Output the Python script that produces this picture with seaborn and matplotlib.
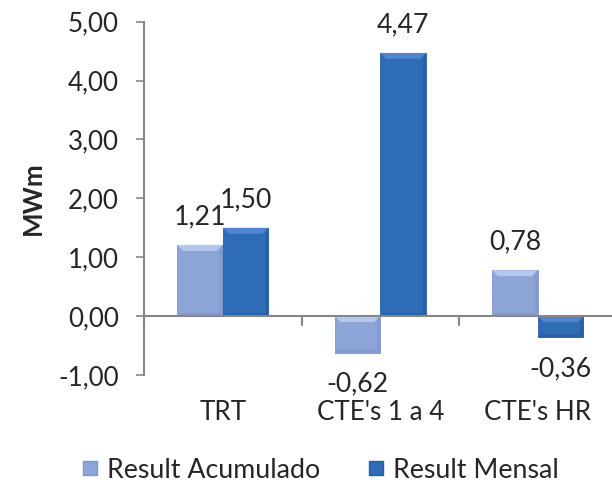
import matplotlib
matplotlib.use("Agg")
import matplotlib.pyplot as plt
import seaborn as sns
import pandas as pd
import numpy as np
from matplotlib.lines import Line2D
from matplotlib.patches import Polygon
from matplotlib.textpath import TextPath
from matplotlib.font_manager import FontProperties

categories = ["TRT", "CTE's 1 a 4", "CTE's HR"]
series_names = ["Result Acumulado", "Result Mensal"]
acumulado = [1.21, -0.62, 0.78]
mensal = [1.50, 4.47, -0.36]
yticks = [-1, 0, 1, 2, 3, 4, 5]

colors = {"Result Acumulado": "#8DA4D6", "Result Mensal": "#2F6CB6"}
edges = {"Result Acumulado": "#7F96C6", "Result Mensal": "#275EA2"}
light = {"Result Acumulado": "#B4C7EC", "Result Mensal": "#4F86D0"}
dark = {"Result Acumulado": "#8299CA", "Result Mensal": "#2860A6"}

FAM = "Lato"


def fit(text, px, weight="normal"):
    fp = FontProperties(family=FAM, weight=weight, size=100)
    w = TextPath((0, 0), text, prop=fp).get_extents().width
    return 100 * px * 0.72 / w


fs_tick = fit("5,00", 49)
fs_cat = fs_tick
fs_lab = fit("-0,62", 59)
fs_leg = fit("Result Acumulado", 209)
fs_ylab = fit("MWm", 70, "bold")

df = pd.DataFrame({
    "cat": categories * 2,
    "serie": [series_names[0]] * 3 + [series_names[1]] * 3,
    "val": acumulado + mensal,
})

sns.set_style("white")
plt.rcParams['font.family'] = [FAM, 'DejaVu Sans']

fig = plt.figure(figsize=(6.12, 4.84), dpi=100)
ax = fig.add_axes([144 / 612, (484 - 375) / 484, 472.5 / 612, (375 - 21.7) / 484])

sns.barplot(data=df, x="cat", y="val", hue="serie", order=categories,
            hue_order=series_names, palette=colors, width=0.58, gap=0,
            saturation=1, legend=False, ax=ax, errorbar=None)

ax.set_ylim(-1, 5)
ax.set_xlim(-0.5, len(categories) - 0.5)

# pixel -> data scale
px_x = 1.0 / 157.5
px_y = 6.0 / 353.3

for cont, name in zip(ax.containers, series_names):
    for bar in cont:
        bar.set_edgecolor(edges[name])
        bar.set_linewidth(0.6)
        bar.set_zorder(2)
        x0 = bar.get_x()
        w = bar.get_width()
        y0 = min(bar.get_y(), bar.get_y() + bar.get_height())
        y1 = max(bar.get_y(), bar.get_y() + bar.get_height())
        bx = 6 * px_x
        by = 6 * px_y
        sx = 3 * px_x
        sy = 3 * px_y
        # top bevel (lighter)
        ax.add_patch(Polygon([[x0, y1], [x0 + w, y1], [x0 + w - bx, y1 - by], [x0 + bx, y1 - by]],
                             closed=True, facecolor=light[name], edgecolor="none", zorder=3))
        # right & bottom bevels (slightly darker)
        ax.add_patch(Polygon([[x0 + w, y1], [x0 + w, y0], [x0 + w - sx, y0 + sy], [x0 + w - sx, y1 - by]],
                             closed=True, facecolor=dark[name], edgecolor="none", zorder=3))
        ax.add_patch(Polygon([[x0, y0], [x0 + w, y0], [x0 + w - sx, y0 + sy], [x0 + sx, y0 + sy]],
                             closed=True, facecolor=dark[name], edgecolor="none", zorder=3))
    labels = [f"{v:.2f}".replace(".", ",") for v in cont.datavalues]
    for bar, lab, v in zip(cont, labels, cont.datavalues):
        x = bar.get_x() + bar.get_width() / 2
        if v >= 0:
            ax.annotate(lab, (x, v), xytext=(0, 15), textcoords="offset points",
                        ha="center", va="baseline", fontsize=fs_lab)
        else:
            ax.annotate(lab, (x, v), xytext=(0, -28), textcoords="offset points",
                        ha="center", va="baseline", fontsize=fs_lab)

ax.set_yticks(yticks)
ax.set_yticklabels([f"{t:.2f}".replace(".", ",") for t in yticks], fontsize=fs_tick)
ax.set_ylabel("MWm", fontsize=fs_ylab, fontweight="bold")
ax.yaxis.set_label_coords((33 - 144) / 472.5, 0.5)
ax.yaxis.label.set_verticalalignment("center")
ax.set_xlabel("")
ax.set_xticks(range(len(categories)))
ax.set_xticklabels(categories, fontsize=fs_cat)
ax.tick_params(axis="x", length=0, pad=18)
ax.tick_params(axis="y", length=6, width=1.2, color="#868686", direction="out", left=True, pad=12)

for s in ["top", "right", "bottom"]:
    ax.spines[s].set_visible(False)
ax.spines["left"].set_color("#868686")
ax.spines["left"].set_linewidth(1.5)
ax.axhline(0, color="#868686", lw=1.5, zorder=4)
for b in np.arange(len(categories) + 1) - 0.5:
    ax.plot([b, b], [0, -9 * px_y], color="#868686", lw=1.5, clip_on=False, zorder=4)

handles = [Line2D([0], [0], marker="s", linestyle="", markersize=10,
                  markerfacecolor=colors[n], markeredgecolor=edges[n]) for n in series_names]
fig.legend(handles, series_names, loc="center", bbox_to_anchor=(319 / 612, 14 / 484),
           ncol=2, frameon=False, fontsize=fs_leg, handlelength=0.8, handletextpad=0.25,
           columnspacing=1.65, borderpad=0, borderaxespad=0)

fig.savefig("out.png", dpi=100)
